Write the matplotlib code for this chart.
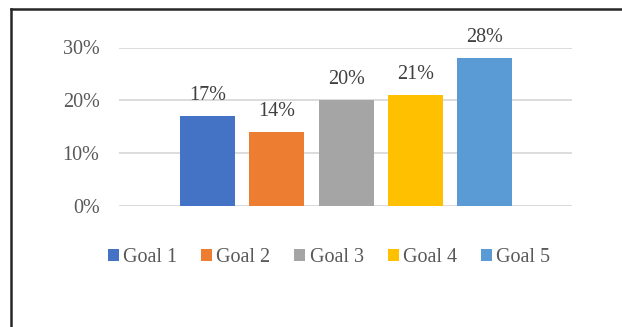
import matplotlib.pyplot as plt
from matplotlib.lines import Line2D
from matplotlib.ticker import FuncFormatter

# data
goals = ['Goal 1', 'Goal 2', 'Goal 3', 'Goal 4', 'Goal 5']
shares = [0.17, 0.14, 0.20, 0.21, 0.28]
colors = ['#4472C4', '#ED7D31', '#A5A5A5', '#FFC000', '#5B9BD5']
yticks = [0, 0.1, 0.2, 0.3]

plt.rcParams['font.family'] = ['Liberation Serif', 'DejaVu Serif']

W, H = 622, 327
fig = plt.figure(figsize=(W / 100, H / 100), dpi=100)
ax = fig.add_axes([119 / W, 1 - 206 / H, (572 - 119) / W, (206 - 47.5) / H])

x = list(range(len(goals)))
bars = ax.bar(x, shares, width=0.794, color=colors, zorder=3, label=goals)
for b, v in zip(bars, shares):
    ax.annotate(f'{v:.0%}', (b.get_x() + b.get_width() / 2, v),
                xytext=(0, 8), textcoords='offset points',
                ha='center', va='bottom', fontsize=14.5, color='#404040')

ax.set_xlim(-1.278, 5.26)
ax.set_ylim(0, 0.30)
ax.set_yticks(yticks)
ax.yaxis.set_major_formatter(FuncFormatter(lambda v, p: f'{v:.0%}'))
ax.set_xticks([])
ax.tick_params(axis='y', length=0, pad=14, labelsize=14.5, labelcolor='#595959')
ax.grid(axis='y', color='#D9D9D9', lw=1.3, zorder=0)
for s in ax.spines.values():
    s.set_visible(False)

fig.legend(handles=bars.patches, labels=goals, loc='center', bbox_to_anchor=(329 / W, 1 - 258 / H),
           ncol=5, frameon=False, fontsize=14.5, handlelength=0.55, handleheight=0.55,
           handletextpad=0.22, columnspacing=1.18, labelcolor='#595959', borderpad=0)

# outer frame (top and left edges only visible)
fig.add_artist(Line2D([10.5 / W, 1], [1 - 8.5 / H, 1 - 8.5 / H], color='#262626', lw=1.8))
fig.add_artist(Line2D([10.5 / W, 10.5 / W], [0, 1 - 8.5 / H], color='#262626', lw=1.8))

fig.savefig('out.png', dpi=100)
